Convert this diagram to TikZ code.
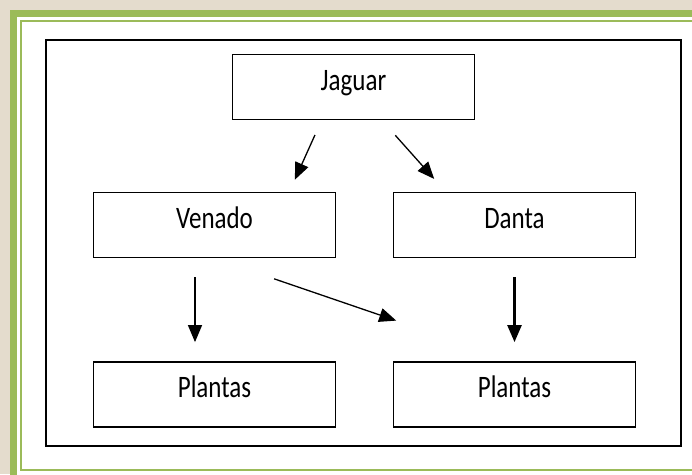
\documentclass[tikz,border=0pt]{standalone}
\usepackage{graphicx}
\usepackage{fontspec}
\setmainfont{Carlito}
\usepackage{tikz}
\usetikzlibrary{arrows.meta}
\definecolor{olivegreen}{HTML}{9BBB59}
\definecolor{paper}{HTML}{E4DCCD}
\newcommand{\tall}[1]{\scalebox{1}[1.25]{#1}}

\begin{document}
\begin{tikzpicture}[x=1pt,y=-1pt]
% page, green frame and black frame
\useasboundingbox (0,0) rectangle (692,474);
\clip (0,0) rectangle (692,474);
\fill[paper] (0,0) rectangle (692,474);
\fill[olivegreen] (10,10) rectangle (720,490);
\fill[white] (17,17) rectangle (720,476);
\draw[olivegreen, line width=2pt] (21,21) rectangle (720,469.5);
\draw[line width=2pt] (46,40) rectangle (681,446);
% size of each box
\def\bw{242pt}
\def\bh{65pt}
% node style definition
\tikzstyle{box} = [
	draw=black, line width=1.8pt, fill=white, rectangle,
	minimum width=\bw, minimum height=\bh, inner sep=0pt,
	text height=20pt, text depth=14pt, text=black,
	font=\fontsize{25}{30}\selectfont ];
\tikzstyle{arr} = [-{Triangle[length=17pt,width=14pt]}, line width=1.3pt, black];
% the food chain
\node[box] (jaguar) at (353.5,87) { \tall{Jaguar} };
\node[box] (venado) at (214.5,225) { \tall{Venado} };
\node[box] (danta) at (514.5,225) { \tall{Danta} };
\node[box] (plantas1) at (214.5,394.5) { \tall{Plantas} };
\node[box] (plantas2) at (514.5,394.5) { \tall{Plantas} };

\draw[arr, shorten <=16pt, shorten >=13pt] ([xshift=-32pt]jaguar.south) -- ([xshift=75pt]venado.north);
\draw[arr, shorten <=20pt, shorten >=17pt] ([xshift=28.5pt]jaguar.south) -- ([xshift=-69pt]danta.north);
\draw[arr, shorten <=19pt, shorten >=19pt] ([xshift=-19.5pt]venado.south) -- ([xshift=-19.5pt]plantas1.north);
\draw[arr, shorten <=63pt, shorten >=125pt] (venado.south) -- (plantas2.north);
\draw[arr, line width=2.5pt, shorten <=19pt, shorten >=19pt] (danta.south) -- (plantas2.north);

\end{tikzpicture}
\end{document}
